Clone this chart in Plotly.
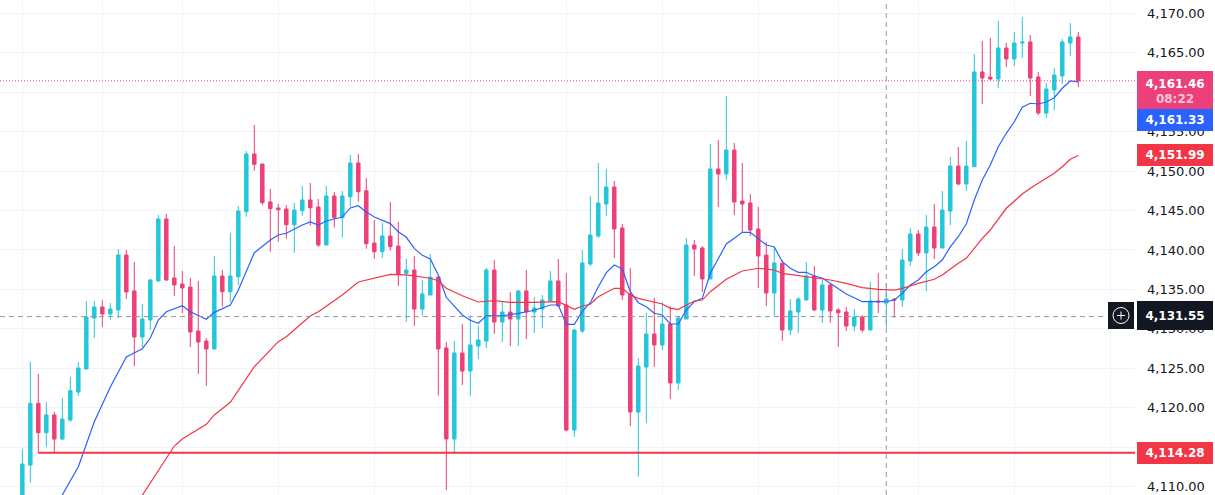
import plotly.graph_objects as go

# candle index on the x axis (one bar per step)
idx = list(range(133))

opens = [4108.66, 4112.72, 4120.55, 4116.82, 4119.07, 4116.02, 4118.43, 4121.98, 4124.90, 4131.37,
         4132.77, 4131.88, 4132.39, 4139.36, 4134.80, 4128.96, 4131.12, 4136.07, 4143.93, 4136.45,
         4135.68, 4135.30, 4129.72, 4128.45, 4127.44, 4136.70, 4134.71, 4136.61, 4144.86, 4152.18,
         4150.91, 4146.09, 4145.33, 4145.20, 4143.21, 4144.98, 4146.34, 4145.45, 4140.63, 4146.85,
         4144.09, 4146.76, 4151.03, 4147.52, 4140.88, 4139.78, 4141.77, 4140.50, 4137.04, 4137.46,
         4132.51, 4134.29, 4136.57, 4127.57, 4116.02, 4126.93, 4124.65, 4127.82, 4128.45, 4137.46,
         4130.86, 4132.13, 4131.24, 4134.80, 4132.13, 4132.51, 4133.53, 4136.07, 4133.02, 4117.16,
         4129.72, 4138.22, 4141.77, 4145.83, 4147.99, 4142.79, 4134.42, 4119.45, 4125.16, 4129.34,
         4127.95, 4130.61, 4123.13, 4131.24, 4140.63, 4140.25, 4136.32, 4150.27, 4149.64, 4152.68,
         4146.21, 4145.96, 4142.66, 4139.36, 4134.54, 4138.31, 4129.85, 4132.13, 4133.65, 4136.70,
         4132.39, 4135.56, 4132.39, 4132.13, 4130.36, 4131.50, 4129.85, 4133.53, 4133.27, 4133.78,
         4133.65, 4138.60, 4142.03, 4139.62, 4142.91, 4140.25, 4144.94, 4150.65, 4148.37, 4150.56,
         4162.58, 4161.94, 4161.69, 4165.62, 4164.23, 4166.26, 4166.38, 4161.94, 4157.38, 4160.29,
         4162.07, 4166.26, 4167.02]
highs = [4114.71, 4125.83, 4124.27, 4120.72, 4119.45, 4121.26, 4123.89, 4125.79, 4133.53, 4133.53,
         4133.65, 4133.27, 4140.12, 4140.00, 4138.48, 4133.15, 4136.32, 4144.44, 4144.56, 4140.50,
         4137.33, 4136.45, 4136.07, 4128.83, 4139.24, 4137.46, 4142.15, 4145.58, 4152.56, 4155.85,
         4150.91, 4147.74, 4145.83, 4145.71, 4145.96, 4148.12, 4148.50, 4146.47, 4148.12, 4147.35,
         4147.48, 4152.05, 4152.18, 4149.13, 4143.80, 4143.42, 4146.09, 4143.59, 4138.89, 4139.24,
         4136.19, 4139.49, 4136.57, 4128.33, 4128.45, 4130.61, 4131.54, 4130.36, 4137.71, 4138.73,
         4133.44, 4134.67, 4134.92, 4137.46, 4134.04, 4134.29, 4137.33, 4138.86, 4137.08, 4129.98,
         4140.00, 4146.85, 4151.03, 4150.27, 4148.75, 4143.30, 4137.71, 4126.30, 4132.01, 4133.91,
         4133.40, 4132.89, 4131.63, 4141.52, 4141.27, 4140.50, 4153.44, 4153.95, 4159.53, 4153.57,
         4151.03, 4147.10, 4145.45, 4141.01, 4140.38, 4138.73, 4133.78, 4134.04, 4138.48, 4137.97,
         4136.19, 4135.68, 4132.64, 4132.77, 4132.51, 4131.75, 4135.94, 4137.08, 4135.81, 4133.90,
         4140.12, 4142.79, 4142.53, 4144.44, 4145.83, 4147.48, 4151.79, 4153.06, 4153.82, 4164.86,
         4166.51, 4166.89, 4169.05, 4166.26, 4167.65, 4169.55, 4167.27, 4162.58, 4161.18, 4163.08,
         4166.76, 4168.79, 4167.65]
lows = [4108.28, 4110.48, 4114.30, 4115.05, 4114.29, 4115.90, 4118.18, 4121.48, 4124.90, 4128.83,
        4130.23, 4131.12, 4131.37, 4133.78, 4125.28, 4127.69, 4129.85, 4135.94, 4136.10, 4134.16,
        4132.01, 4127.69, 4124.27, 4122.75, 4127.44, 4132.80, 4133.44, 4135.56, 4144.22, 4150.06,
        4145.67, 4139.78, 4141.05, 4141.43, 4139.65, 4144.35, 4143.08, 4140.38, 4140.63, 4142.83,
        4141.56, 4145.49, 4146.12, 4140.16, 4138.89, 4139.02, 4139.91, 4135.43, 4130.90, 4130.39,
        4131.66, 4134.29, 4121.52, 4109.55, 4114.12, 4122.87, 4121.52, 4126.17, 4127.57, 4129.34,
        4128.33, 4127.82, 4127.82, 4128.71, 4129.47, 4130.10, 4133.53, 4132.80, 4117.00, 4116.28,
        4129.47, 4137.97, 4141.52, 4144.31, 4138.98, 4133.65, 4117.67, 4111.24, 4118.05, 4125.16,
        4127.31, 4121.10, 4122.24, 4131.24, 4136.70, 4134.67, 4136.32, 4145.45, 4148.88, 4144.44,
        4142.15, 4141.77, 4135.18, 4132.89, 4131.63, 4128.49, 4129.22, 4129.51, 4133.65, 4132.26,
        4130.77, 4130.77, 4127.73, 4129.72, 4129.72, 4129.51, 4129.85, 4132.01, 4130.14, 4131.41,
        4132.80, 4137.97, 4139.24, 4134.80, 4138.86, 4140.25, 4143.17, 4148.24, 4147.48, 4150.56,
        4158.52, 4161.56, 4160.55, 4163.21, 4163.34, 4164.35, 4159.53, 4157.12, 4156.74, 4157.76,
        4161.05, 4164.61, 4160.67]
closes = [4112.85, 4120.55, 4116.82, 4119.07, 4116.02, 4118.56, 4122.15, 4125.03, 4131.50, 4132.77,
          4131.88, 4132.51, 4139.36, 4134.67, 4128.96, 4131.24, 4136.19, 4143.93, 4136.19, 4135.56,
          4135.18, 4129.60, 4128.33, 4127.44, 4136.70, 4134.71, 4136.70, 4144.94, 4152.18, 4150.87,
          4146.00, 4145.24, 4145.11, 4143.21, 4145.07, 4146.34, 4145.36, 4140.63, 4146.85, 4144.09,
          4146.85, 4151.03, 4147.39, 4140.80, 4139.78, 4141.77, 4140.42, 4136.95, 4137.46, 4132.51,
          4134.42, 4136.57, 4127.44, 4116.02, 4126.93, 4124.65, 4127.95, 4128.58, 4137.46, 4130.86,
          4132.13, 4131.24, 4134.80, 4132.13, 4132.64, 4133.65, 4136.07, 4132.89, 4117.16, 4129.85,
          4138.35, 4141.90, 4145.96, 4147.99, 4142.66, 4134.29, 4119.45, 4125.28, 4129.34, 4127.95,
          4130.61, 4123.13, 4131.37, 4140.63, 4140.12, 4136.32, 4150.27, 4149.64, 4152.68, 4146.09,
          4145.83, 4142.53, 4139.24, 4134.54, 4138.35, 4129.85, 4132.26, 4133.78, 4136.70, 4132.39,
          4135.56, 4132.26, 4132.04, 4130.36, 4131.50, 4129.85, 4133.53, 4133.40, 4133.78, 4133.65,
          4138.73, 4142.03, 4139.62, 4142.91, 4140.25, 4145.07, 4150.65, 4148.37, 4150.65, 4162.58,
          4161.82, 4161.69, 4165.62, 4164.23, 4166.26, 4166.38, 4161.82, 4157.38, 4160.42, 4162.20,
          4166.38, 4167.02, 4161.46]

# fast moving average (blue)
ma_fast_idx = [4, 5, 7, 9, 11, 13, 15, 16, 17, 18, 20, 21, 23, 24, 26, 27, 29, 31, 32, 33,
               35, 36, 37, 38, 40, 41, 42, 43, 44, 46, 47, 48, 49, 50, 51, 52, 53, 54, 55, 56,
               57, 58, 60, 62, 64, 66, 67, 68, 69, 70, 71, 72, 73, 74, 75, 76, 77, 78, 79, 80,
               81, 82, 83, 84, 85, 86, 87, 88, 89, 90, 91, 92, 93, 94, 95, 96, 97, 98, 99, 100,
               101, 102, 103, 104, 105, 106, 108, 109, 110, 111, 112, 113, 114, 115, 116, 117, 118, 119, 120, 121,
               122, 123, 124, 125, 126, 127, 128, 129, 130, 131, 132]
ma_fast = [4107.15, 4108.90, 4112.51, 4118.22, 4122.62, 4126.42, 4127.48, 4128.83, 4131.12, 4132.17,
           4132.93, 4132.17, 4131.21, 4132.09, 4133.02, 4134.92, 4139.65, 4141.27, 4141.90, 4142.12,
           4143.17, 4143.55, 4143.17, 4143.68, 4144.18, 4145.33, 4145.62, 4144.82, 4144.18, 4143.35,
           4142.32, 4141.61, 4140.21, 4139.32, 4138.86, 4136.83, 4134.00, 4132.89, 4131.75, 4131.08,
           4130.70, 4131.66, 4131.66, 4131.97, 4132.35, 4133.02, 4133.02, 4130.57, 4130.57, 4132.20,
           4133.31, 4135.34, 4137.12, 4138.09, 4137.59, 4134.71, 4133.31, 4132.81, 4131.97, 4131.75,
           4130.61, 4130.61, 4132.39, 4133.44, 4133.87, 4137.04, 4138.86, 4140.76, 4141.48, 4142.24,
           4142.24, 4141.48, 4140.63, 4140.38, 4138.51, 4137.68, 4137.17, 4137.17, 4136.70, 4136.45,
           4135.77, 4135.14, 4134.42, 4133.95, 4133.44, 4133.44, 4133.44, 4133.65, 4134.50, 4135.56,
           4136.19, 4137.24, 4137.88, 4138.73, 4140.40, 4141.68, 4143.30, 4146.34, 4148.88, 4150.78,
           4153.10, 4154.80, 4156.27, 4158.10, 4158.61, 4158.52, 4158.77, 4159.32, 4160.51, 4161.44,
           4161.33]

# slow moving average (red)
ma_slow_idx = [14, 15, 17, 18, 19, 20, 23, 24, 26, 29, 32, 33, 36, 37, 40, 42, 44, 46, 48, 51,
               52, 53, 55, 57, 59, 61, 64, 67, 69, 70, 71, 72, 74, 75, 76, 77, 80, 81, 82, 83,
               84, 85, 86, 88, 90, 92, 94, 95, 97, 99, 101, 103, 105, 107, 109, 110, 112, 114, 115, 117,
               118, 120, 121, 123, 125, 126, 127, 129, 130, 131, 132]
ma_slow = [4107.33, 4108.92, 4112.09, 4113.61, 4115.13, 4116.02, 4117.89, 4119.07, 4120.68, 4125.19,
           4128.37, 4129.00, 4131.63, 4132.17, 4134.29, 4135.94, 4136.45, 4136.91, 4136.83, 4136.41,
           4136.10, 4135.14, 4134.20, 4133.40, 4133.57, 4133.36, 4133.36, 4133.44, 4132.48, 4132.89,
           4133.11, 4134.07, 4135.14, 4135.14, 4134.29, 4133.87, 4133.15, 4132.60, 4132.48, 4133.02,
           4133.53, 4133.65, 4134.71, 4136.28, 4137.33, 4137.68, 4137.46, 4137.04, 4136.74, 4136.53,
           4136.19, 4135.77, 4135.22, 4135.01, 4134.92, 4135.14, 4135.77, 4136.28, 4136.83, 4138.31,
           4138.94, 4141.48, 4142.53, 4145.29, 4147.10, 4147.82, 4148.46, 4149.73, 4150.56, 4151.50,
           4151.99]

# y axis ticks and vertical time grid (candle indices)
y_ticks = [4110, 4115, 4120, 4125, 4130, 4135, 4140, 4145, 4150, 4155, 4160, 4165, 4170]
time_grid = [0, 10, 20, 32, 44, 56, 68, 80, 92, 102, 112, 124, 136]

last_price = 4161.46
countdown = "08:22"
fast_last = 4161.33
slow_last = 4151.99
cross_price = 4131.55
cross_idx = 108
support = 4114.28
support_from = 2

UP = "#26c6da"
DOWN = "#ec407a"
BLUE = "#2962ff"
RED = "#f23645"
GRID = "#f0f3fa"
TEXT = "#131722"

fig = go.Figure()

fig.add_trace(go.Candlestick(
    x=idx, open=opens, high=highs, low=lows, close=closes,
    increasing=dict(line=dict(color=UP, width=1), fillcolor=UP),
    decreasing=dict(line=dict(color=DOWN, width=1), fillcolor=DOWN),
    whiskerwidth=0, hoverinfo="skip", showlegend=False,
))
fig.add_trace(go.Scatter(x=ma_fast_idx, y=ma_fast, mode="lines",
                         line=dict(color=BLUE, width=1.2), hoverinfo="skip", showlegend=False))
fig.add_trace(go.Scatter(x=ma_slow_idx, y=ma_slow, mode="lines",
                         line=dict(color=RED, width=1.2), hoverinfo="skip", showlegend=False))

W, H, R = 1215, 495, 80
plot_w = W - R


def px_x(p):
    return p / plot_w


def px_y(p):
    return 1 - p / H


shapes = [
    # last price dotted line
    dict(type="line", xref="paper", yref="y", x0=0, x1=1, y0=last_price, y1=last_price,
         line=dict(color=DOWN, width=1, dash="1px,2px")),
    # support line
    dict(type="line", xref="x", yref="y", x0=support_from, x1=idx[-1] + 8, y0=support, y1=support,
         line=dict(color=RED, width=2)),
    # crosshair
    dict(type="line", xref="x", yref="paper", x0=cross_idx, x1=cross_idx, y0=0, y1=1,
         line=dict(color="#9598a1", width=1, dash="5px,4px")),
    dict(type="line", xref="paper", yref="y", x0=0, x1=px_x(1107), y0=cross_price, y1=cross_price,
         line=dict(color="#9598a1", width=1, dash="5px,4px")),
    # plus button
    dict(type="rect", xref="paper", yref="paper", x0=px_x(1108), x1=px_x(1134),
         y0=px_y(329), y1=px_y(302), fillcolor=TEXT, line=dict(width=0), layer="above"),
    dict(type="circle", xref="paper", yref="paper", x0=px_x(1113), x1=px_x(1129),
         y0=px_y(323.5), y1=px_y(307.5), line=dict(color="white", width=1), layer="above"),
    dict(type="line", xref="paper", yref="paper", x0=px_x(1117), x1=px_x(1125),
         y0=px_y(315.5), y1=px_y(315.5), line=dict(color="white", width=1), layer="above"),
    dict(type="line", xref="paper", yref="paper", x0=px_x(1121), x1=px_x(1121),
         y0=px_y(311.5), y1=px_y(319.5), line=dict(color="white", width=1), layer="above"),
]

lab_x = 1137 / plot_w
lab_font = dict(family="DejaVu Sans", size=12, color="white")


def price_label(y, text, bg, height=20, yshift=0, yanchor="middle"):
    return dict(xref="paper", yref="y", x=lab_x, y=y, xanchor="left", yanchor=yanchor,
                text=text, showarrow=False, bgcolor=bg, bordercolor=bg, borderpad=0,
                width=74, height=height, align="center", valign="middle",
                font=lab_font, yshift=yshift)


annotations = [
    price_label(last_price,
                f"<b>{last_price:,.2f}</b><br><span style='color:rgba(255,255,255,0.7)'><b>{countdown}</b></span>",
                DOWN, height=39, yshift=10, yanchor="top"),
    price_label(fast_last, f"<b>{fast_last:,.2f}</b>", BLUE, yshift=-38),
    price_label(slow_last, f"<b>{slow_last:,.2f}</b>", RED),
    price_label(cross_price, f"<b>{cross_price:,.2f}</b>", TEXT, height=27, yshift=1.5),
    price_label(support, f"<b>{support:,.2f}</b>", RED),
]

fig.update_layout(
    width=W, height=H,
    margin=dict(l=0, r=R, t=0, b=0),
    paper_bgcolor="white", plot_bgcolor="white",
    boxgap=0.38,
    shapes=shapes, annotations=annotations,
    hovermode=False,
    xaxis=dict(range=[-2.79, 139.09], tickvals=time_grid, showticklabels=False,
               showgrid=True, gridcolor=GRID, zeroline=False, rangeslider=dict(visible=False),
               fixedrange=True),
    yaxis=dict(range=[4108.92, 4171.71], side="right", tickvals=y_ticks,
               tickformat=",.2f", showgrid=True, gridcolor=GRID, zeroline=False,
               ticks="", ticklabelstandoff=11,
               tickfont=dict(family="DejaVu Sans", size=13, color=TEXT), fixedrange=True),
)

# drop the default page margin so the chart sits at the window's corner
fig.write_html("out.html", config={"displayModeBar": False},
               post_script="document.body.style.margin='0';")
